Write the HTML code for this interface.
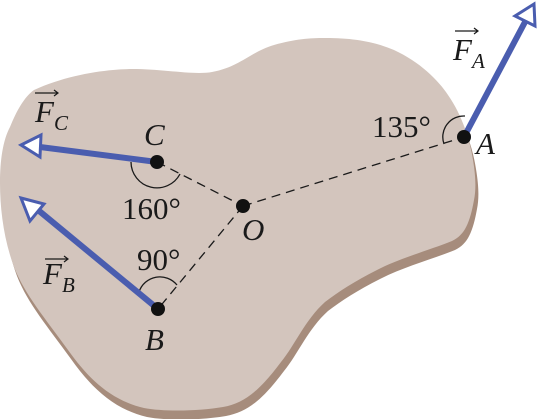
<!DOCTYPE html>
<html><head><meta charset="utf-8"><style>
html,body{margin:0;padding:0;background:#fff;width:537px;height:419px;overflow:hidden}
text{font-family:"Liberation Serif",serif;fill:#1a1a1a}
.it{font-style:italic}
</style></head><body>
<svg width="537" height="419" viewBox="0 0 537 419" xmlns="http://www.w3.org/2000/svg">
<defs>
<path id="blob" d="M34,90 C60,78 90,72 113,70 C150,66 190,76 212,72 C240,67 250,52 274,45 C295,39 310,38 325,38 C355,38 375,42 394,50 C420,62 438,80 448,95 C462,115 470,140 473,160 C476,178 476,190 474,200 C470,222 465,235 452,241 C430,250 400,258 377,270 C355,281 338,292 325,302 C305,320 295,345 281,362 C260,390 245,403 223,407 C200,411 165,412 144,408 C110,400 88,378 68,350 C45,318 25,295 14,267 C4,240 0,210 0,183 C0,160 3,140 10,127 C16,112 24,97 34,90 Z"/>
</defs>
<use href="#blob" transform="translate(3,9)" fill="#a68c7c"/>
<use href="#blob" fill="#d3c5bd"/>
<g stroke="#1a1a1a" stroke-width="1.3" stroke-dasharray="9,6" fill="none">
<line x1="157" y1="162" x2="243" y2="206"/>
<line x1="243" y1="206" x2="464" y2="137"/>
<line x1="243" y1="206" x2="158" y2="309"/>
</g>
<g stroke="#1a1a1a" stroke-width="1.3" fill="none">
<path d="M131,162 A26,26 0 0 0 180,174"/>
<path d="M139,292 A22,22 0 0 1 177,285"/>
<path d="M465,116 A21,21 0 0 0 444,144"/>
</g>
<g stroke="#4a5daf" stroke-width="6" fill="none">
<line x1="464" y1="137" x2="525" y2="22"/>
<line x1="157" y1="162" x2="40" y2="147"/>
<line x1="158" y1="309" x2="38" y2="210"/>
</g>
<g fill="#fff" stroke="#4a5daf" stroke-width="3">
<polygon points="534,4 535,26 515,16"/>
<polygon points="21,145 41,135 40,157"/>
<polygon points="21,198 44,204 30,221"/>
</g>
<g fill="#111">
<circle cx="464" cy="137" r="7"/>
<circle cx="157" cy="162" r="7"/>
<circle cx="243" cy="206" r="7"/>
<circle cx="158" cy="309" r="7"/>
</g>
<g font-size="31">
<text class="it" x="476" y="154">A</text>
<text class="it" x="144" y="145">C</text>
<text class="it" x="242" y="240">O</text>
<text class="it" x="145" y="350">B</text>
<text x="372" y="137">135°</text>
<text x="122" y="219">160°</text>
<text x="137" y="270">90°</text>
<text class="it" x="453" y="60">F<tspan font-size="21" dy="8">A</tspan></text>
<text class="it" x="35" y="122">F<tspan font-size="21" dy="8">C</tspan></text>
<text class="it" x="43" y="284">F<tspan font-size="21" dy="8">B</tspan></text>
</g>
<g stroke="#1a1a1a" stroke-width="1.2" fill="none">
<path d="M455,31 H478 M474,28 L478,31 L474,34"/>
<path d="M35,93 H58 M54,90 L58,93 L54,96"/>
<path d="M45,259 H68 M64,256 L68,259 L64,262"/>
</g>
</svg>
</body></html>
